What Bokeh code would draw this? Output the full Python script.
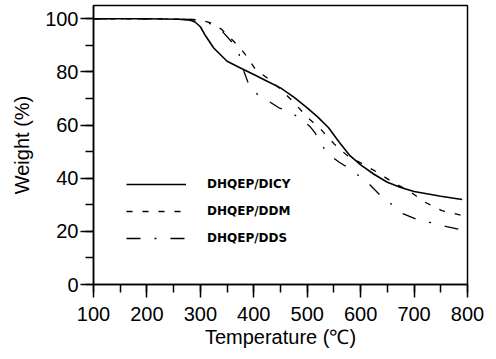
from bokeh.plotting import figure
from bokeh.models import Range1d, Legend, LegendItem, FixedTicker
from bokeh.embed import file_html
from bokeh.resources import INLINE

# --- data ---
dicy_t = [100, 200, 260, 280, 290, 300, 310, 325, 350, 375, 400, 425, 450, 475, 500,
          520, 540, 560, 580, 600, 625, 650, 675, 700, 750, 790]
dicy_w = [100, 100, 99.8, 99.5, 98.8, 97, 93.5, 89, 84, 81.5, 79, 76.5, 74, 70.5, 66.5,
          63, 59, 53.5, 48.5, 45, 41.5, 38.5, 36.5, 35, 33.2, 32]

ddm_t = [100, 200, 280, 300, 320, 340, 360, 375, 390, 403, 430, 450, 475, 500, 525,
         550, 575, 600, 633, 660, 690, 720, 752, 790]
ddm_w = [100, 100, 99.8, 99.5, 98.5, 96, 92, 89, 85, 81, 77, 73.5, 68.5, 63, 58.5,
         53, 48.5, 45.8, 42, 38.5, 35.3, 31, 27.8, 26]

dds_t = [100, 200, 280, 300, 320, 340, 360, 372, 382, 392, 400, 420, 447, 470, 490,
         505, 515, 525, 540, 560, 576, 590, 615, 637, 656, 679, 706, 731, 761, 795]
dds_w = [100, 100, 99.8, 99.5, 98, 95.5, 91, 87, 80, 74.5, 72.5, 70, 66.5, 64.7, 62,
         59.5, 57, 53, 49, 46, 44, 42, 38, 33.5, 30.5, 26.7, 24.4, 23.3, 21.8, 20.3]

labels = ["DHQEP/DICY", "DHQEP/DDM", "DHQEP/DDS"]
x_ticks = [100, 200, 300, 400, 500, 600, 700, 800]
y_ticks = [0, 20, 40, 60, 80, 100]

FONT = "Liberation Sans"

p = figure(width=496, height=359, output_backend="svg", toolbar_location=None,
           x_range=Range1d(100, 800), y_range=Range1d(0, 105),
           min_border_left=93, min_border_right=29, min_border_top=5, min_border_bottom=75)

p.xgrid.visible = False
p.ygrid.visible = False
p.outline_line_color = "black"
p.outline_line_width = 1.5
p.background_fill_color = "white"
p.border_fill_color = "white"

r1 = p.line(dicy_t, dicy_w, line_color="black", line_width=1.6)
r2 = p.line(ddm_t, ddm_w, line_color="black", line_width=1.3, line_dash="6 10")
r3 = p.line(dds_t, dds_w, line_color="black", line_width=1.3, line_dash="14 14 2 14")

for ax in (p.xaxis[0], p.yaxis[0]):
    ax.axis_line_color = "black"
    ax.axis_line_width = 1.5
    ax.major_tick_line_color = "black"
    ax.major_tick_line_width = 1.5
    ax.minor_tick_line_color = "black"
    ax.minor_tick_line_width = 1.5
    ax.major_tick_in = 0
    ax.minor_tick_in = 0
    ax.major_tick_out = 13
    ax.minor_tick_out = 8
    ax.major_label_text_font = FONT
    ax.major_label_text_font_size = "20px"
    ax.major_label_text_color = "black"
    ax.axis_label_text_font = FONT
    ax.axis_label_text_font_size = "20px"
    ax.axis_label_text_font_style = "normal"
    ax.axis_label_text_color = "black"

p.xaxis.ticker = FixedTicker(ticks=x_ticks, minor_ticks=list(range(100, 801, 50)))
p.yaxis.ticker = FixedTicker(ticks=y_ticks, minor_ticks=list(range(0, 101, 10)))
p.xaxis.major_label_standoff = 9
p.xaxis.axis_label_standoff = 2
p.yaxis.major_label_standoff = 2
p.yaxis.axis_label_standoff = 9
p.xaxis.axis_label = "Temperature (\u2103)"
p.yaxis.axis_label = "Weight (%)"

legend = Legend(items=[LegendItem(label=labels[0], renderers=[r1]),
                       LegendItem(label=labels[1], renderers=[r2]),
                       LegendItem(label=labels[2], renderers=[r3])],
                location=(33, 36), glyph_width=60, glyph_height=20, label_height=20,
                label_standoff=21, spacing=7, padding=0, margin=0,
                border_line_color=None, background_fill_alpha=0,
                label_text_font="DejaVu Sans", label_text_font_size="12px",
                label_text_font_style="bold", label_text_color="black")
p.add_layout(legend)

open("out.html", "w").write(file_html(p, INLINE))
